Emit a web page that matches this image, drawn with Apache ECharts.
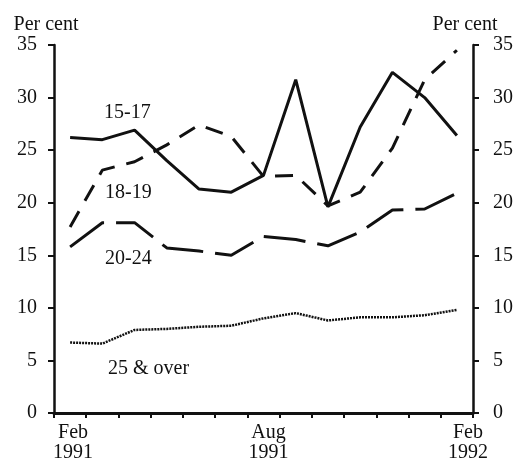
<!DOCTYPE html>
<html>
<head>
<meta charset="utf-8">
<script src="https://cdn.jsdelivr.net/npm/echarts@6/dist/echarts.min.js"></script>
<style>
html,body{margin:0;padding:0;background:#fff;}
#chart{width:519px;height:468px;}
</style>
</head>
<body>
<div id="chart"></div>
<script>
// Months Feb 1991 .. Feb 1992
const months = ['Feb 1991','Mar 1991','Apr 1991','May 1991','Jun 1991','Jul 1991','Aug 1991','Sep 1991','Oct 1991','Nov 1991','Dec 1991','Jan 1992','Feb 1992'];
const tickLabels = ['{a|Feb}\n{a|1991}','','','','','','{b|Aug}\n{b|1991}','','','','','','{c|Feb}\n{c|1992}'];
const seriesNames = ['15-17','18-19','20-24','25 & over'];
const age15to17 = [26.2, 26.0, 26.9, 24.0, 21.3, 21.0, 22.6, 31.7, 19.6, 27.2, 32.4, 30.0, 26.4];
const age18to19 = [17.7, 23.1, 23.9, 25.5, 27.4, 26.3, 22.5, 22.6, 19.7, 21.0, 25.2, 31.7, 34.5];
const age20to24 = [15.8, 18.1, 18.1, 15.7, 15.4, 15.0, 16.8, 16.5, 15.9, 17.2, 19.3, 19.4, 20.9];
const age25over = [6.7, 6.6, 7.9, 8.0, 8.2, 8.3, 9.0, 9.5, 8.8, 9.1, 9.1, 9.3, 9.8];
const yTicks = [0, 5, 10, 15, 20, 25, 30, 35];

const FONT = 'Liberation Serif';
const INK = '#111';
const chart = echarts.init(document.getElementById('chart'), null, {renderer:'canvas'});

const yAxisBase = (pos) => ({
  type: 'value',
  position: pos,
  min: yTicks[0],
  max: yTicks[yTicks.length-1],
  interval: yTicks[1]-yTicks[0],
  name: 'Per cent',
  nameLocation: 'end',
  nameGap: 10,
  nameTextStyle: {fontFamily: FONT, fontSize: 20, color: INK, align: 'center', padding: [0, 16, 0, 0]},
  axisLine: {show: true, lineStyle: {color: INK, width: 2.5}},
  axisTick: {show: true, inside: false, length: 6, lineStyle: {color: INK, width: 2}},
  axisLabel: {fontFamily: FONT, fontSize: 20, color: INK, margin: pos === 'left' ? 17 : 20},
  splitLine: {show: false}
});

const option = {
  animation: false,
  backgroundColor: '#fff',
  grid: {left: 54, right: 46, top: 45, bottom: 55, containLabel: false},
  xAxis: {
    type: 'category',
    data: months,
    boundaryGap: true,
    axisLine: {show: true, lineStyle: {color: INK, width: 3}},
    axisTick: {show: true, inside: false, length: 5, interval: 0, lineStyle: {color: INK, width: 2}},
    axisLabel: {
      interval: 0,
      margin: 10,
      formatter: (v, i) => tickLabels[i],
      rich: {
        a: {fontFamily: FONT, fontSize: 20, color: INK, lineHeight: 20, padding: [0,0,0,6]},
        b: {fontFamily: FONT, fontSize: 20, color: INK, lineHeight: 20, padding: [0,0,0,10]},
        c: {fontFamily: FONT, fontSize: 20, color: INK, lineHeight: 20, padding: [0,0,0,22]}
      }
    },
    splitLine: {show: false}
  },
  yAxis: [yAxisBase('left'), yAxisBase('right')],
  series: [
    {name: seriesNames[0], type: 'line', data: age15to17, yAxisIndex: 0, symbol: 'none',
     lineStyle: {color: INK, width: 3, type: 'solid'}},
    {name: seriesNames[1], type: 'line', data: age18to19, yAxisIndex: 0, symbol: 'none',
     lineStyle: {color: INK, width: 3, type: [18, 12]}},
    {name: seriesNames[2], type: 'line', data: age20to24, yAxisIndex: 0, symbol: 'none',
     lineStyle: {color: INK, width: 3, type: [42, 12]}},
    {name: seriesNames[3], type: 'line', data: age25over, yAxisIndex: 0, symbol: 'none',
     lineStyle: {color: '#111', width: 2.5, type: [2, 1]}}
  ],
  graphic: [
    {type: 'text', left: 104, top: 103, style: {text: seriesNames[0], font: '20px "Liberation Serif"', fill: INK}},
    {type: 'text', left: 105, top: 183, style: {text: seriesNames[1], font: '20px "Liberation Serif"', fill: INK}},
    {type: 'text', left: 105, top: 249, style: {text: seriesNames[2], font: '20px "Liberation Serif"', fill: INK}},
    {type: 'text', left: 108, top: 359, style: {text: seriesNames[3], font: '20px "Liberation Serif"', fill: INK}}
  ]
};
chart.setOption(option);
</script>
</body>
</html>
